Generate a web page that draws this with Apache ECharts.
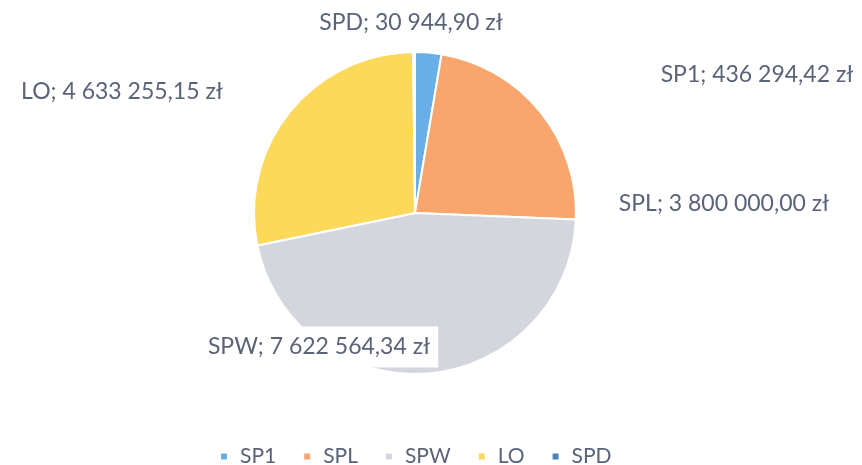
<!DOCTYPE html>
<html>
<head>
<meta charset="utf-8">
<script src="https://cdn.jsdelivr.net/npm/echarts@6/dist/echarts.min.js"></script>
<style>
  html, body { margin: 0; padding: 0; background: #fff; }
  #chart { width: 862px; height: 465px; }
</style>
</head>
<body>
<div id="chart"></div>
<script>
const categories = ['SP1', 'SPL', 'SPW', 'LO', 'SPD'];
const values = [436294.42, 3800000.00, 7622564.34, 4633255.15, 30944.90];

const colors = ['#6aaee8', '#f8a56e', '#d4d6de', '#fcd95b', '#4f81bd'];
// label centres, same order as categories
const labelPos = [[757, 75], [724, 204], [319, 347], [122, 92], [411, 23]];

function fmt(v) {
  const parts = v.toFixed(2).split('.');
  return parts[0].replace(/\B(?=(\d{3})+(?!\d))/g, ' ') + ',' + parts[1];
}

const chart = echarts.init(document.getElementById('chart'));

chart.setOption({
  backgroundColor: '#fff',
  color: colors,
  textStyle: { fontFamily: 'Lato' },
  legend: {
    data: categories,
    top: 441,
    left: 214,
    itemWidth: 8,
    itemHeight: 8,
    itemGap: 26,
    icon: 'rect',
    textStyle: {
      fontSize: 21,
      color: '#5b6378',
      fontFamily: 'Lato',
      padding: [0, 0, 0, 7],
    },
  },
  series: [
    {
      type: 'pie',
      center: [415, 213],
      radius: 161,
      startAngle: 90,
      clockwise: true,
      avoidLabelOverlap: false,
      itemStyle: { borderColor: '#fff', borderWidth: 2 },
      label: {
        show: true,
        position: 'outside',
        fontSize: 23,
        color: '#5b6378',
        fontFamily: 'Lato',
        formatter: (p) => p.name + '; ' + fmt(p.value) + ' zł',
      },
      labelLine: { show: false },
      labelLayout: (params) => {
        const [x, y] = labelPos[params.dataIndex];
        return { x, y, align: 'center', verticalAlign: 'middle' };
      },
      data: categories.map((name, i) => ({
        name,
        value: values[i],
        label: name === 'SPW'
          ? { backgroundColor: '#fff', padding: [9, 8, 9, 8] }
          : {},
      })),
    },
  ],
});
</script>
</body>
</html>
